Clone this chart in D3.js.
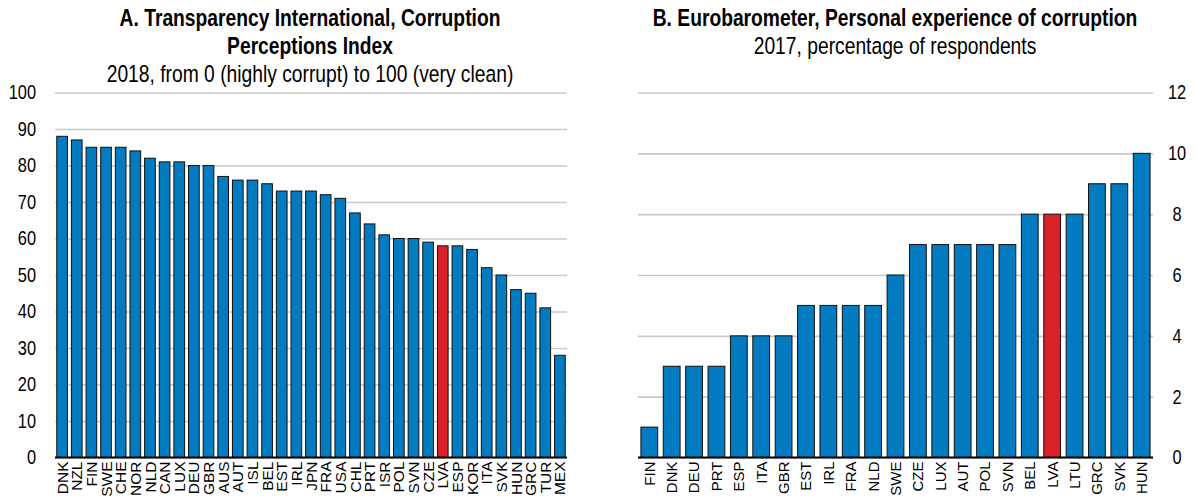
<!DOCTYPE html>
<html><head><meta charset="utf-8">
<script src="https://cdn.jsdelivr.net/npm/d3@7"></script>
<style>
html,body{margin:0;padding:0;background:#fff;}
text{font-family:"Liberation Sans",Arial,sans-serif;fill:#000;}
</style></head>
<body><svg id="chart" width="1198" height="496"></svg>
<script>
// Panel A data
const cpiCountries = ["DNK","NZL","FIN","SWE","CHE","NOR","NLD","CAN","LUX","DEU","GBR","AUS","AUT","ISL","BEL","EST","IRL","JPN","FRA","USA","CHL","PRT","ISR","POL","SVN","CZE","LVA","ESP","KOR","ITA","SVK","HUN","GRC","TUR","MEX"];
const cpiValues = [88,87,85,85,85,84,82,81,81,80,80,77,76,76,75,73,73,73,72,71,67,64,61,60,60,59,58,58,57,52,50,46,45,41,28];
const cpiTicks = [0,10,20,30,40,50,60,70,80,90,100];
// Panel B data
const euCountries = ["FIN","DNK","DEU","PRT","ESP","ITA","GBR","EST","IRL","FRA","NLD","SWE","CZE","LUX","AUT","POL","SVN","BEL","LVA","LTU","GRC","SVK","HUN"];
const euValues = [1,3,3,3,4,4,4,5,5,5,5,6,7,7,7,7,7,8,8,8,9,9,10];
const euTicks = [0,2,4,6,8,10,12];
const highlight = "LVA";

const BLUE = "#037BC1", RED = "#DA2128", GRID = "#c9c9c9";
const NARROW = 0.82;
const svg = d3.select("#chart");

function panel(opt){
  const x = d3.scaleBand().domain(opt.cats).range([opt.x0, opt.x1]).paddingInner(opt.pi).paddingOuter(opt.po);
  const y = d3.scaleLinear().domain([0, opt.max]).range([457.5, 92.5]);
  const g = svg.append("g");
  // grid + tick labels
  const pad = opt.side==="left" ? 19 : 24;
  const axis = (opt.side === "left" ? d3.axisLeft(y) : d3.axisRight(y))
      .tickValues(opt.ticks).tickSize(-(opt.x1 - opt.x0)).tickPadding(pad);
  const ga = g.append("g").attr("transform", `translate(${opt.side==="left"?opt.x0:opt.x1},0)`).call(axis);
  ga.select(".domain").remove();
  ga.selectAll(".tick line").attr("stroke", GRID).attr("stroke-width", 1.6);
  ga.selectAll(".tick text").attr("font-size", 20).attr("fill","#000")
    .attr("font-family","Liberation Sans, Arial, sans-serif")
    .attr("x", (opt.side==="left" ? -pad : pad) / NARROW)
    .attr("transform", `scale(${NARROW},1)`)
    .attr("text-anchor", opt.side==="left" ? "end" : "middle");
  // bars
  g.selectAll("rect.bar").data(opt.cats).join("rect").attr("class","bar")
    .attr("x", d => x(d)).attr("width", x.bandwidth())
    .attr("y", (d,i) => y(opt.vals[i])).attr("height", (d,i) => y(0) - y(opt.vals[i]))
    .attr("fill", d => d === highlight ? RED : BLUE)
    .attr("stroke", "#111").attr("stroke-width", 1);
  // baseline
  g.append("line").attr("x1", opt.x0).attr("x2", opt.x1).attr("y1", y(0)).attr("y2", y(0))
    .attr("stroke", "#000").attr("stroke-width", 2);
  // category labels
  const xa = g.append("g").attr("transform", `translate(0,${y(0)})`)
    .call(d3.axisBottom(x).tickSize(0).tickPadding(0));
  xa.select(".domain").remove();
  xa.selectAll(".tick text")
    .attr("font-size", opt.lblSize).attr("fill","#000")
    .attr("font-family","Liberation Sans, Arial, sans-serif")
    .attr("text-anchor","end").attr("dy", null).attr("y", 0)
    .attr("transform", `translate(${opt.lblSize*0.36},4) rotate(-90)`);
  // titles
  opt.titles.forEach(t => {
    svg.append("text").attr("x", 0).attr("y", 0)
      .attr("transform", `translate(${opt.cx},${t.y}) scale(${NARROW},1)`)
      .attr("text-anchor","middle")
      .attr("font-size", t.size).attr("font-weight", t.bold ? "bold" : "normal").text(t.text);
  });
}

panel({cats: cpiCountries, vals: cpiValues, ticks: cpiTicks, max: 100, x0: 55, x1: 567, pi: 0.27, po: 0.12,
  side: "left", lblSize: 15.5, cx: 310,
  titles: [{text:"A. Transparency International, Corruption", y: 25.5, size: 23.5, bold: true},
           {text:"Perceptions Index", y: 53.5, size: 23.5, bold: true},
           {text:"2018, from 0 (highly corrupt) to 100 (very clean)", y: 82, size: 23.5, bold: false}]});

panel({cats: euCountries, vals: euValues, ticks: euTicks, max: 12, x0: 638, x1: 1153, pi: 0.25, po: 0.13,
  side: "right", lblSize: 15, cx: 895,
  titles: [{text:"B. Eurobarometer, Personal experience of corruption", y: 25.5, size: 23.5, bold: true},
           {text:"2017, percentage of respondents", y: 53.5, size: 23.5, bold: false}]});
</script></body></html>
